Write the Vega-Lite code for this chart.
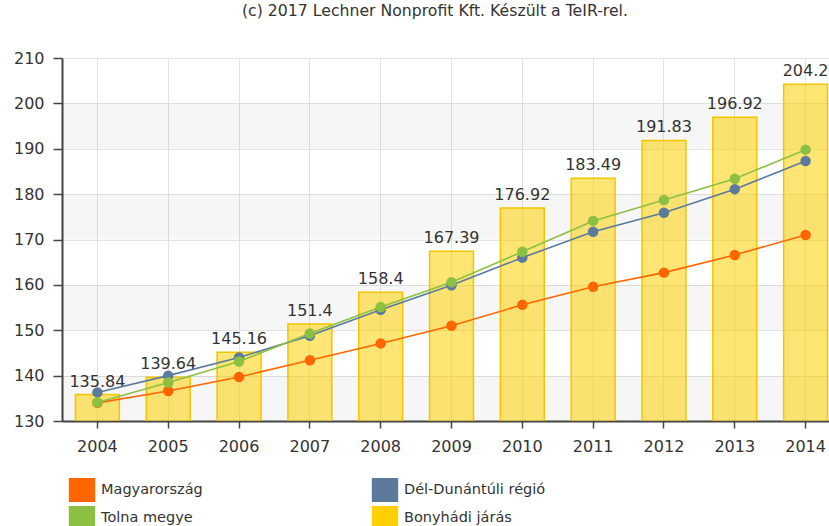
{
  "$schema": "https://vega.github.io/schema/vega-lite/v6.json",
  "autosize": {"type": "none"},
  "padding": {"left": 62, "top": 58, "right": 0, "bottom": 105},
  "width": 779,
  "height": 363,
  "background": "white",
  "title": {
    "text": "(c) 2017 Lechner Nonprofit Kft. Készült a TeIR-rel.",
    "font": "DejaVu Sans",
    "fontSize": 15.7,
    "fontWeight": "normal",
    "color": "#333333",
    "anchor": "start",
    "frame": "group",
    "dx": 180,
    "offset": 30
  },
  "datasets": {
    "stripes": [
      {"lo": 130, "hi": 140},
      {"lo": 150, "hi": 160},
      {"lo": 170, "hi": 180},
      {"lo": 190, "hi": 200}
    ],
    "main": [
      {"year": "2004", "series": "Bonyhádi járás", "value": 135.84},
      {"year": "2005", "series": "Bonyhádi járás", "value": 139.64},
      {"year": "2006", "series": "Bonyhádi járás", "value": 145.16},
      {"year": "2007", "series": "Bonyhádi járás", "value": 151.4},
      {"year": "2008", "series": "Bonyhádi járás", "value": 158.4},
      {"year": "2009", "series": "Bonyhádi járás", "value": 167.39},
      {"year": "2010", "series": "Bonyhádi járás", "value": 176.92},
      {"year": "2011", "series": "Bonyhádi járás", "value": 183.49},
      {"year": "2012", "series": "Bonyhádi járás", "value": 191.83},
      {"year": "2013", "series": "Bonyhádi járás", "value": 196.92},
      {"year": "2014", "series": "Bonyhádi járás", "value": 204.2},
      {"year": "2004", "series": "Magyarország", "value": 134.0},
      {"year": "2005", "series": "Magyarország", "value": 136.6},
      {"year": "2006", "series": "Magyarország", "value": 139.7},
      {"year": "2007", "series": "Magyarország", "value": 143.4},
      {"year": "2008", "series": "Magyarország", "value": 147.1},
      {"year": "2009", "series": "Magyarország", "value": 151.0},
      {"year": "2010", "series": "Magyarország", "value": 155.6},
      {"year": "2011", "series": "Magyarország", "value": 159.6},
      {"year": "2012", "series": "Magyarország", "value": 162.7},
      {"year": "2013", "series": "Magyarország", "value": 166.6},
      {"year": "2014", "series": "Magyarország", "value": 171.0},
      {"year": "2004", "series": "Dél-Dunántúli régió", "value": 136.3},
      {"year": "2005", "series": "Dél-Dunántúli régió", "value": 140.0},
      {"year": "2006", "series": "Dél-Dunántúli régió", "value": 144.0},
      {"year": "2007", "series": "Dél-Dunántúli régió", "value": 148.8},
      {"year": "2008", "series": "Dél-Dunántúli régió", "value": 154.5},
      {"year": "2009", "series": "Dél-Dunántúli régió", "value": 159.9},
      {"year": "2010", "series": "Dél-Dunántúli régió", "value": 166.0},
      {"year": "2011", "series": "Dél-Dunántúli régió", "value": 171.7},
      {"year": "2012", "series": "Dél-Dunántúli régió", "value": 175.9},
      {"year": "2013", "series": "Dél-Dunántúli régió", "value": 181.1},
      {"year": "2014", "series": "Dél-Dunántúli régió", "value": 187.3},
      {"year": "2004", "series": "Tolna megye", "value": 134.1},
      {"year": "2005", "series": "Tolna megye", "value": 138.5},
      {"year": "2006", "series": "Tolna megye", "value": 143.1},
      {"year": "2007", "series": "Tolna megye", "value": 149.3},
      {"year": "2008", "series": "Tolna megye", "value": 155.1},
      {"year": "2009", "series": "Tolna megye", "value": 160.6},
      {"year": "2010", "series": "Tolna megye", "value": 167.3},
      {"year": "2011", "series": "Tolna megye", "value": 174.1},
      {"year": "2012", "series": "Tolna megye", "value": 178.7},
      {"year": "2013", "series": "Tolna megye", "value": 183.4},
      {"year": "2014", "series": "Tolna megye", "value": 189.8}
    ]
  },
  "config": {
    "view": {"stroke": null},
    "font": "DejaVu Sans",
    "axis": {
      "labelFont": "DejaVu Sans",
      "labelFontSize": 16,
      "labelColor": "#333333",
      "domainColor": "#444444",
      "domainWidth": 2,
      "tickColor": "#444444",
      "tickWidth": 1.5,
      "gridColor": "#e2e2e2",
      "gridWidth": 1,
      "title": null
    }
  },
  "layer": [
    {
      "data": {"name": "stripes"},
      "mark": {"type": "rect", "color": "#000000", "opacity": 0.035},
      "encoding": {
        "y": {"field": "lo", "type": "quantitative", "scale": {"domain": [130, 210]}},
        "y2": {"field": "hi"}
      }
    },
    {
      "data": {"name": "main"},
      "transform": [{"filter": "datum.series === 'Bonyhádi járás'"}],
      "mark": {"type": "bar", "clip": true, "fillOpacity": 0.55, "stroke": "#F2C500", "strokeWidth": 1.5},
      "encoding": {
        "x": {
          "field": "year", "type": "ordinal",
          "scale": {"paddingInner": 0.38, "paddingOuter": 0.19},
          "axis": {"labelAngle": 0, "tickSize": 7, "labelPadding": 10, "grid": true, "bandPosition": 0.5}
        },
        "y": {
          "field": "value", "type": "quantitative",
          "scale": {"domain": [130, 210], "nice": false, "zero": false},
          "axis": {"values": [130, 140, 150, 160, 170, 180, 190, 200, 210], "tickSize": 9, "labelPadding": 9, "grid": true}
        },
        "color": {
          "field": "series", "type": "nominal",
          "scale": {
            "domain": ["Magyarország", "Dél-Dunántúli régió", "Tolna megye", "Bonyhádi járás"],
            "range": ["#FF6600", "#5B7A9C", "#8CC043", "#FFD000"]
          },
          "legend": {
            "orient": "none",
            "legendX": 8,
            "legendY": 420,
            "direction": "horizontal",
            "columns": 2,
            "columnPadding": 168,
            "rowPadding": 4,
            "padding": 0,
            "title": null,
            "symbolType": "M-1.1,-1H1.1V1H-1.1Z",
            "symbolSize": 576,
            "labelFont": "DejaVu Sans",
            "labelFontSize": 14.5,
            "labelColor": "#333333",
            "labelOffset": 7,
            "symbolStrokeWidth": 0,
            "symbolOpacity": 1,
            "encode": {
              "symbols": {
                "update": {
                  "fill": {"scale": "color", "field": "value"},
                  "fillOpacity": {"value": 1},
                  "opacity": {"value": 1},
                  "strokeWidth": {"value": 0}
                }
              }
            }
          }
        }
      }
    },
    {
      "data": {"name": "main"},
      "transform": [{"filter": "datum.series === 'Bonyhádi járás'"}],
      "mark": {"type": "text", "baseline": "bottom", "dy": -5, "fontSize": 16, "color": "#333333", "font": "DejaVu Sans"},
      "encoding": {
        "x": {"field": "year", "type": "ordinal"},
        "y": {"field": "value", "type": "quantitative"},
        "text": {"field": "value", "type": "nominal"}
      }
    },
    {
      "data": {"name": "main"},
      "transform": [{"filter": "datum.series !== 'Bonyhádi járás'"}],
      "mark": {"type": "line", "strokeWidth": 1.6},
      "encoding": {
        "x": {"field": "year", "type": "ordinal"},
        "y": {"field": "value", "type": "quantitative"},
        "color": {"field": "series", "type": "nominal"}
      }
    },
    {
      "data": {"name": "main"},
      "transform": [{"filter": "datum.series !== 'Bonyhádi járás'"}],
      "mark": {"type": "point", "filled": true, "opacity": 1, "size": 110},
      "encoding": {
        "x": {"field": "year", "type": "ordinal"},
        "y": {"field": "value", "type": "quantitative"},
        "color": {"field": "series", "type": "nominal"},
        "order": {"field": "series"}
      }
    }
  ]
}
